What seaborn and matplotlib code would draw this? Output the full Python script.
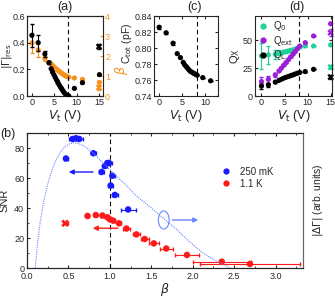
import numpy as np
import pandas as pd
import matplotlib
matplotlib.use("Agg")
import matplotlib.pyplot as plt
from matplotlib.patches import Ellipse
import seaborn as sns

# ---------------- data ----------------
# panel (a)
va = [0, 1.4, 2.9, 3.8, 4.3, 4.6, 4.9, 5.2, 5.5, 5.8, 6.1, 6.4, 6.7, 7.0, 7.3, 7.6, 7.9, 8.2, 9.5, 11.3, 15.1]
gamma = [0.455, 0.40, 0.315, 0.25, 0.205, 0.18, 0.16, 0.14, 0.12, 0.10, 0.083, 0.066, 0.05, 0.035,
         0.022, 0.011, 0.004, 0.002, 0.057, 0.10, 0.16]
gamma_err = [0.085, 0.06, 0.02, 0.01] + [0.0] * 17
beta_a = [2.65, 2.3, 1.88, 1.67, 1.6, 1.53, 1.46, 1.40, 1.34, 1.28, 1.23, 1.18, 1.13, 1.08,
          1.04, 1.00, 0.97, 0.95, 0.90, 0.83, 0.68]
beta_a_err = [0.5, 0.33, 0.12, 0.05] + [0.0] * 17
va_x = [15.0]
gamma_x = [0.37]
gamma_x_err = [0.02]
beta_x = [0.42]
beta_x_err = [0.12]

# panel (c)
vc = [0, 1.5, 3.0, 3.9, 4.6, 5.2, 5.5, 5.8, 6.1, 6.4, 6.7, 7.0, 7.3, 7.6, 7.9, 8.2, 9.4, 11.1]
ctot = [0.826, 0.819, 0.806, 0.793, 0.788, 0.782, 0.779, 0.777, 0.775, 0.773, 0.771, 0.770,
        0.769, 0.768, 0.767, 0.766, 0.763, 0.759]
ctot_err = [0.002, 0.001, 0.002] + [0.0] * 15

# panel (d)
vd = [0, 1.5, 3.0, 3.8, 4.3, 4.8, 5.3, 5.8, 6.3, 6.8, 7.3, 7.8, 8.3, 9.5, 11.3]
q0 = [36, 37, 37.5, 38.5, 39, 39.5, 40, 40.5, 41, 41.5, 42, 43, 44, 45, 45]
q0_err = [12, 8, 4, 2, 1.5, 1, 1, 1, 1, 1, 1, 1, 1, 0, 0]
qext = [13, 15, 19, 22.5, 25, 27.5, 30, 32.5, 35, 37.5, 40, 42.5, 45, 48, 54]
qext_err = [4, 3, 2] + [0] * 12
ql = [9, 10, 12.5, 14, 15, 16, 16.8, 17.5, 18.3, 19, 19.8, 20.5, 21.2, 22, 24]
ql_err = [3, 2, 1] + [0] * 12
vd15 = [15.0]
q0_15 = [46]
qext_15 = [65]
q0_15x = [26]
qext_15x = [57]
ql_15x = [17]
q15x_err = [2, 3, 2]

# panel (b)
blue_beta = [0.47, 0.55, 0.59, 0.63, 0.80, 0.90, 0.94, 0.97, 0.99, 1.03, 1.01, 1.06, 1.22]
blue_snr = [73, 86, 86.5, 86, 76.5, 64, 68, 70, 70, 61.5, 55, 48.7, 39]
blue_xerr = [0.02, 0.04, 0.04, 0.04, 0.03, 0.03, 0.03, 0.03, 0.03, 0.03, 0.03, 0.04, 0.09]
red_beta = [0.73, 0.83, 0.91, 0.97, 1.0, 1.04, 1.11, 1.2, 1.32, 1.42, 1.53, 1.68, 1.93, 2.35, 2.69]
red_snr = [34.7, 35.3, 35, 33.8, 32.4, 31.6, 29.8, 26.3, 22.4, 19.3, 16.4, 13, 8.7, 4.2, 2.7]
red_xerr = [0.02, 0.02, 0.02, 0.02, 0.02, 0.02, 0.03, 0.04, 0.04, 0.05, 0.06, 0.08, 0.15, 0.35, 0.6]
redx_beta = [0.46]
redx_snr = [29.8]
redx_err = [0.03]
curve_beta = [0.10, 0.13, 0.16, 0.20, 0.25, 0.30, 0.35, 0.40, 0.45, 0.50, 0.56, 0.62, 0.70, 0.80,
              0.90, 1.00, 1.10, 1.20, 1.30, 1.40, 1.50, 1.65, 1.80, 1.95, 2.10, 2.25, 2.45]
curve_val = [0, 18, 31, 44, 56, 65, 72, 77, 80.5, 82.5, 83.5, 83, 81, 76.5,
             71, 65.5, 60, 55, 49, 44.5, 40, 33, 26, 18, 11, 5.5, 0]

# ---------------- style ----------------
sns.set_style("ticks")
plt.rcParams['font.family'] = ['Liberation Sans', 'DejaVu Sans']
plt.rcParams['mathtext.fontset'] = 'dejavusans'
plt.rcParams['xtick.direction'] = 'in'
plt.rcParams['ytick.direction'] = 'in'
plt.rcParams['axes.linewidth'] = 0.8

ORANGE = '#f7901e'
BLUE = '#1a1aff'
RED = '#ff1a1a'
GREEN = '#1fd19a'
PURPLE = '#9b1fd6'
CURVE = '#6a85ff'
VLINE = 8.15

fig = plt.figure(figsize=(3.35, 2.97), dpi=100)
W, H = 335, 297

def box(l, r, t, b):
    return [l / W, (H - b) / H, (r - l) / W, (b - t) / H]

axa = fig.add_axes(box(27, 103, 16, 96))
axc = fig.add_axes(box(154, 218, 16, 96))
axd = fig.add_axes(box(255, 332, 16, 96))
axb = fig.add_axes(box(27, 303, 133, 268))

FS = 6.5
ms = 14

# ---------- panel a ----------
dfa = pd.DataFrame({'V': va, 'G': gamma, 'B': beta_a})
axa2 = axa.twinx()
axa2.errorbar(va, beta_a, yerr=beta_a_err, fmt='none', ecolor=ORANGE, elinewidth=0.8, capsize=1.5)
sns.scatterplot(data=dfa, x='V', y='B', ax=axa2, color=ORANGE, s=ms, edgecolor='none', zorder=3)
axa2.errorbar(va_x, beta_x, yerr=beta_x_err, fmt='none', ecolor=ORANGE, elinewidth=0.8, capsize=1.5)
axa2.scatter(va_x, beta_x, marker='X', color=ORANGE, s=22, edgecolor='none')
axa.errorbar(va, gamma, yerr=gamma_err, fmt='none', ecolor='k', elinewidth=0.8, capsize=1.5, zorder=4)
sns.scatterplot(data=dfa, x='V', y='G', ax=axa, color='k', s=ms, edgecolor='none', zorder=4)
axa.errorbar(va_x, gamma_x, yerr=gamma_x_err, fmt='none', ecolor='k', elinewidth=0.8, capsize=1.5)
axa.scatter(va_x, gamma_x, marker='X', color='k', s=22, edgecolor='none')
axa.axvline(VLINE, color='k', ls=(0, (4, 3)), lw=0.8)
axa.set_zorder(axa2.get_zorder() + 1)
axa.patch.set_visible(False)
axa.set_xlim(-1.1, 15.9)
axa.set_ylim(0, 0.6)
axa2.set_ylim(0, 4)
axa.set_xticks([0, 5, 10, 15])
axa.set_yticks([0, 0.2, 0.4, 0.6])
axa.set_yticklabels(['0.0', '0.2', '0.4', '0.6'])
axa2.set_yticks([0, 1, 2, 3, 4])
axa2.tick_params(axis='y', colors=ORANGE, labelsize=FS, length=2.5, pad=1.5)
axa2.spines['right'].set_color(ORANGE)
axa.set_xlabel(r'$V_{\rm t}$ (V)', fontsize=9, labelpad=1)
axa.set_ylabel(r'$|\Gamma|_{\rm res}$', fontsize=7.5)
axa.yaxis.set_label_coords(-0.17, 0.5)
axa2.set_ylabel(r'$\beta$', fontsize=9, color=ORANGE)
axa2.yaxis.set_label_coords(1.13, 0.32)
axa.tick_params(labelsize=FS, length=2.5, pad=1.5)

# ---------- panel c ----------
dfc = pd.DataFrame({'V': vc, 'C': ctot})
axc.errorbar(vc, ctot, yerr=ctot_err, fmt='none', ecolor='k', elinewidth=0.8, capsize=1.2)
sns.scatterplot(data=dfc, x='V', y='C', ax=axc, color='k', s=ms, edgecolor='none', zorder=3)
axc.axvline(VLINE, color='k', ls=(0, (4, 3)), lw=0.8)
axc.set_xlim(-1.1, 12.7)
axc.set_ylim(0.74, 0.84)
axc.set_xticks([0, 5, 10])
axc.set_yticks([0.74, 0.76, 0.78, 0.80, 0.82, 0.84])
axc.set_yticklabels(['0.74', '0.76', '0.78', '0.80', '0.82', '0.84'])
axc.tick_params(labelsize=FS, length=2.5, pad=1.5, top=True, right=True)
axc.set_xlabel(r'$V_{\rm t}$ (V)', fontsize=9, labelpad=1)
axc.set_ylabel(r'C$_{\rm tot}$ (pF)', fontsize=7.5)
axc.yaxis.set_label_coords(-0.31, 0.66)

# ---------- panel d ----------
dfd = pd.DataFrame({'V': vd, 'Q0': q0, 'Qext': qext, 'QL': ql})
axd.errorbar(vd, q0, yerr=q0_err, fmt='none', ecolor=GREEN, elinewidth=0.8, capsize=1.5)
axd.errorbar(vd, qext, yerr=qext_err, fmt='none', ecolor=PURPLE, elinewidth=0.8, capsize=1.5)
axd.errorbar(vd, ql, yerr=ql_err, fmt='none', ecolor='k', elinewidth=0.8, capsize=1.5)
sns.scatterplot(data=dfd, x='V', y='Q0', ax=axd, color=GREEN, s=ms, edgecolor='none', zorder=3)
sns.scatterplot(data=dfd, x='V', y='Qext', ax=axd, color=PURPLE, s=ms, edgecolor='none', zorder=3)
sns.scatterplot(data=dfd, x='V', y='QL', ax=axd, color='k', s=ms, edgecolor='none', zorder=3)
axd.scatter(vd15, q0_15, color=GREEN, s=ms, edgecolor='none', clip_on=False)
axd.scatter(vd15, qext_15, color=PURPLE, s=ms, edgecolor='none', clip_on=False)
for yv, c, e in zip([q0_15x[0], qext_15x[0], ql_15x[0]], [GREEN, PURPLE, 'k'], q15x_err):
    axd.errorbar(vd15, [yv], yerr=[e], fmt='none', ecolor=c, elinewidth=0.8, capsize=1.5, clip_on=False)
    axd.scatter(vd15, [yv], marker='X', color=c, s=22, edgecolor='none', clip_on=False)
axd.axvline(VLINE, color='k', ls=(0, (4, 3)), lw=0.8)
axd.set_xlim(-1.4, 15.3)
axd.set_ylim(0, 72)
axd.set_xticks([0, 5, 10, 15])
axd.set_yticks([0, 25, 50])
axd.tick_params(labelsize=FS, length=2.5, pad=1.5, top=True, right=True)
axd.set_xlabel(r'$V_{\rm t}$ (V)', fontsize=9, labelpad=1)
axd.set_ylabel(r'Q$_{\rm X}$', fontsize=8, labelpad=1)
hd = [plt.Line2D([], [], ls='none', marker='o', ms=3.5, color=c) for c in [GREEN, PURPLE, 'k']]
axd.legend(hd, [r'Q$_0$', r'Q$_{\rm ext}$', r'Q$_{\rm L}$'], loc='upper left', frameon=False,
           fontsize=7, handlelength=0.6, handletextpad=0.8, labelspacing=0.05,
           borderaxespad=0.1, bbox_to_anchor=(0.0, 1.02))

# ---------- panel b ----------
axb2 = axb.twinx()
axb2.plot(curve_beta, curve_val, ls=(0, (1, 1)), color=CURVE, lw=0.8)
axb2.add_patch(Ellipse((1.65, 32), 0.13, 12, fill=False, edgecolor=CURVE, lw=0.8))
axb2.annotate('', xy=(2.1, 32), xytext=(1.72, 32),
              arrowprops=dict(arrowstyle='-|>', color=CURVE, lw=1.0, mutation_scale=7))
axb2.set_ylim(0, 90)
axb2.set_yticks([])
axb2.set_ylabel(r'$|\Delta\Gamma|$ (arb. units)', fontsize=7.5, labelpad=6)

dfb = pd.DataFrame({'b': blue_beta, 's': blue_snr})
dfr = pd.DataFrame({'b': red_beta, 's': red_snr})
axb.errorbar(blue_beta, blue_snr, xerr=blue_xerr, fmt='none', ecolor=BLUE, elinewidth=0.8, capsize=1.5)
axb.errorbar(red_beta, red_snr, xerr=red_xerr, fmt='none', ecolor=RED, elinewidth=0.8, capsize=1.5)
sns.scatterplot(data=dfb, x='b', y='s', ax=axb, color=BLUE, s=22, edgecolor='none', zorder=3)
sns.scatterplot(data=dfr, x='b', y='s', ax=axb, color=RED, s=22, edgecolor='none', zorder=3)
axb.errorbar(redx_beta, redx_snr, xerr=redx_err, fmt='none', ecolor=RED, elinewidth=0.8, capsize=1.5)
axb.scatter(redx_beta, redx_snr, marker='X', color=RED, s=30, edgecolor='none')
axb.annotate('', xy=(0.47, 64), xytext=(0.83, 64),
             arrowprops=dict(arrowstyle='-|>', color=BLUE, lw=1.0, mutation_scale=7))
axb.annotate('', xy=(0.76, 26.5), xytext=(1.13, 26.5),
             arrowprops=dict(arrowstyle='-|>', color=RED, lw=1.0, mutation_scale=7))
axb.axvline(1.0, color='k', ls=(0, (4, 3)), lw=0.8)
axb.set_xlim(0, 3.33)
axb.set_ylim(0, 90)
axb.set_xticks([0, 0.5, 1.0, 1.5, 2.0, 2.5, 3.0])
axb.set_xticklabels(['0.0', '0.5', '1.0', '1.5', '2.0', '2.5', '3.0'])
axb.set_xticks(np.arange(0.25, 3.3, 0.5), minor=True)
axb.set_yticks([0, 20, 40, 60, 80])
axb.set_yticks([10, 30, 50, 70], minor=True)
axb.tick_params(labelsize=6.5, length=2.5, pad=2, top=True)
axb.tick_params(axis='x', pad=3)
axb.tick_params(which='minor', length=1.5, top=True)
axb.set_xlabel(r'$\beta$', fontsize=9, labelpad=0)
axb.set_ylabel('SNR', fontsize=8, labelpad=3)
axb.spines['right'].set_color('#666666')
axb2.spines['right'].set_color('#666666')
hb = [plt.Line2D([], [], ls='none', marker='o', ms=3.5, color=c) for c in [BLUE, RED]]
axb.legend(hb, ['250 mK', '1.1 K'], loc='center left', bbox_to_anchor=(0.67, 0.67), frameon=False,
           fontsize=7, handlelength=1.0, handletextpad=1.0, labelspacing=0.2)

# panel labels
fig.text(65 / W, 1 - 7 / H, '(a)', fontsize=9, ha='center', va='center')
fig.text(195 / W, 1 - 7 / H, '(c)', fontsize=9, ha='center', va='center')
fig.text(297 / W, 1 - 7 / H, '(d)', fontsize=9, ha='center', va='center')
fig.text(8 / W, 1 - 134 / H, '(b)', fontsize=9, ha='center', va='center')

fig.savefig('out.png', dpi=100)
